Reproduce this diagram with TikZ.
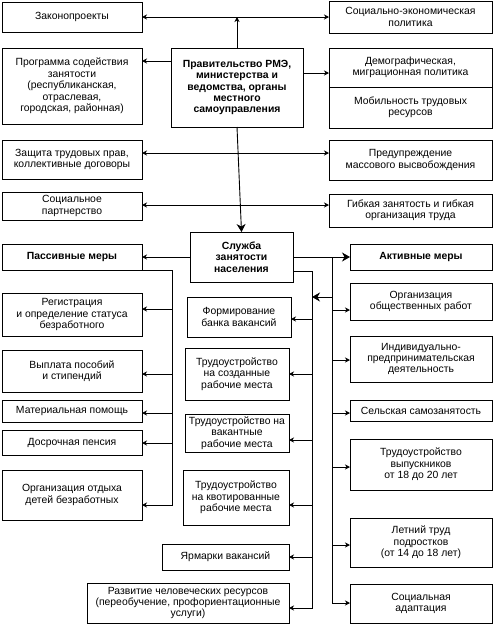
\documentclass[tikz,border=0pt]{standalone}
\usepackage{fontspec}
\setmainfont{Liberation Sans}
\usetikzlibrary{arrows.meta}
\newcommand\bx[7][]{\node[bxs,#1,minimum width={(#5-#3)*1pt},minimum height={(#6-#4)*1pt}] (#2) at ({(#3+#5)/2},{(#4+#6)/2}) {#7};}
\begin{document}
\begin{tikzpicture}[x=1pt,y=-1pt, line width=0.9pt,
 bxs/.style={draw, align=center, inner sep=1pt, outer sep=0pt, font=\fontsize{10.4}{11.4}\selectfont},
 bold/.style={font=\fontsize{10.4}{11.4}\selectfont\bfseries},
 arr/.style={-{Stealth[length=5pt,width=5pt,inset=1.5pt]}},
 dbl/.style={{Stealth[length=5pt,width=5pt,inset=1.5pt]}-{Stealth[length=5pt,width=5pt,inset=1.5pt]}},
 big/.style={-{Stealth[length=8pt,width=9pt,inset=2.5pt]}}]
\fill[white] (0,0) rectangle (494,633);
\useasboundingbox (0,0) rectangle (494,633);
% boxes
\bx{zak}{2}{2}{142}{32}{Законопроекты}
\bx{prog}{2}{48}{142}{124}{Программа содействия\\занятости\\(республиканская,\\отраслевая,\\городская, районная)}
\bx[bold]{gov}{171}{48}{303}{127}{Правительство РМЭ,\\министерства и\\ведомства, органы\\местного\\самоуправления}
\bx{soc}{329}{1}{492}{33}{Социально-экономическая\\политика}
\bx{demo}{329}{48}{492}{87}{Демографическая,\\миграционная политика}
\bx{mob}{329}{87}{492}{128}{Мобильность трудовых\\ресурсов}
\bx{zas}{2}{140}{142}{179}{Защита трудовых прав,\\коллективные договоры}
\bx{part}{2}{192}{142}{220}{Социальное\\партнерство}
\bx{pred}{329}{140}{492}{180}{Предупреждение\\массового высвобождения}
\bx{gib}{329}{194}{492}{227}{Гибкая занятость и гибкая\\организация труда}
\bx[bold]{sl}{190}{232}{293}{282}{Служба\\занятости\\населения}
\bx[bold]{pas}{2}{244}{142}{270}{Пассивные меры}
\bx[bold]{akt}{350}{244}{492}{270}{Активные меры}
\bx{reg}{2}{293}{142}{336}{Регистрация\\и определение статуса\\безработного}
\bx{vyp}{2}{350}{142}{392}{Выплата пособий\\и стипендий}
\bx{mat}{2}{400}{142}{422}{Материальная помощь}
\bx{dos}{2}{430}{142}{455}{Досрочная пенсия}
\bx{otd}{2}{470}{142}{520}{Организация отдыха\\детей безработных}
\bx{bank}{187}{297}{291}{337}{Формирование\\банка вакансий}
\bx{sozd}{185}{348}{289}{400}{Трудоустройство\\на созданные\\рабочие места}
\bx{vak}{185}{414}{289}{452}{Трудоустройство на\\вакантные\\рабочие места}
\bx{kvot}{183}{470}{289}{525}{Трудоустройство\\на квотированные\\рабочие места}
\bx{yarm}{162}{544}{289}{570}{Ярмарки вакансий}
\bx{razv}{87}{583}{289}{623}{Развитие человеческих ресурсов\\(переобучение, профориентационные\\услуги)}
\bx{obsh}{350}{283}{492}{320}{Организация\\общественных работ}
\bx{ind}{350}{336}{492}{382}{Индивидуально-\\предпринимательская\\деятельность}
\bx{sel}{350}{400}{492}{421}{Сельская самозанятость}
\bx{vyps}{350}{439}{492}{490}{Трудоустройство\\выпускников\\от 18 до 20 лет}
\bx{let}{350}{518}{492}{567}{Летний труд\\подростков\\(от 14 до 18 лет)}
\bx{adapt}{350}{584}{492}{623}{Социальная\\адаптация}
% coordinates
\coordinate (yA) at (0,61);
\coordinate (yB) at (0,73);
\coordinate (yC) at (0,153);
\coordinate (yD) at (0,205);
\coordinate (cL) at (172,0);
\coordinate (cM) at (312,0);
\coordinate (cR) at (332,0);
% top connectors
\draw[arr] (gov.north) -- (gov.north |- zak.east);
\draw[dbl] (zak.east) -- (soc.west);
\draw[arr] (gov.west |- yA) -- (prog.east |- yA);
\draw[arr] (gov.east |- yB) -- (demo.west |- yB);
\draw[big] (gov.south) -- (sl.north);
\draw[dbl] (zas.east |- yC) -- (pred.west |- yC);
\draw[dbl] (part.east |- yD) -- (gib.west |- yD);
\draw[arr] (sl.west) -- (pas.east);
\draw[big] (sl.east) -- (akt.west);
% left column
\coordinate (l1) at (0,309);
\coordinate (l2) at (0,374);
\coordinate (l3) at (0,413);
\coordinate (l4) at (0,443);
\coordinate (l5) at (0,505);
\draw[arr] (pas.south east) -- (cL |- pas.south east) -- (cL |- l5) -- (otd.east |- l5);
\draw[arr] (cL |- l1) -- (reg.east |- l1);
\draw[arr] (cL |- l2) -- (vyp.east |- l2);
\draw[arr] (cL |- l3) -- (mat.east |- l3);
\draw[arr] (cL |- l4) -- (dos.east |- l4);
% middle column
\coordinate (m0) at (0,271);
\coordinate (m1) at (0,319);
\coordinate (m2) at (0,374);
\coordinate (m3) at (0,440);
\coordinate (m4) at (0,505);
\coordinate (m5) at (0,557);
\coordinate (m6) at (0,608);
\draw[arr] (sl.east |- m0) -- (cM |- m0) -- (cM |- m6) -- (razv.east |- m6);
\draw[arr] (cM |- m1) -- (bank.east |- m1);
\draw[arr] (cM |- m2) -- (sozd.east |- m2);
\draw[arr] (cM |- m3) -- (vak.east |- m3);
\draw[arr] (cM |- m4) -- (kvot.east |- m4);
\draw[arr] (cM |- m5) -- (yarm.east |- m5);
% right column
\coordinate (r0) at (0,297);
\coordinate (r1) at (0,310);
\coordinate (r2) at (0,360);
\coordinate (r3) at (0,413);
\coordinate (r4) at (0,467);
\coordinate (r5) at (0,545);
\coordinate (r6) at (0,603);
\draw[arr] (cR |- sl.east) -- (cR |- r6) -- (adapt.west |- r6);
\draw[big] (cR |- r0) -- (cM |- r0);
\draw[arr] (cR |- r1) -- (obsh.west |- r1);
\draw[arr] (cR |- r2) -- (ind.west |- r2);
\draw[arr] (cR |- r3) -- (sel.west |- r3);
\draw[arr] (cR |- r4) -- (vyps.west |- r4);
\draw[arr] (cR |- r5) -- (let.west |- r5);
\end{tikzpicture}
\end{document}
